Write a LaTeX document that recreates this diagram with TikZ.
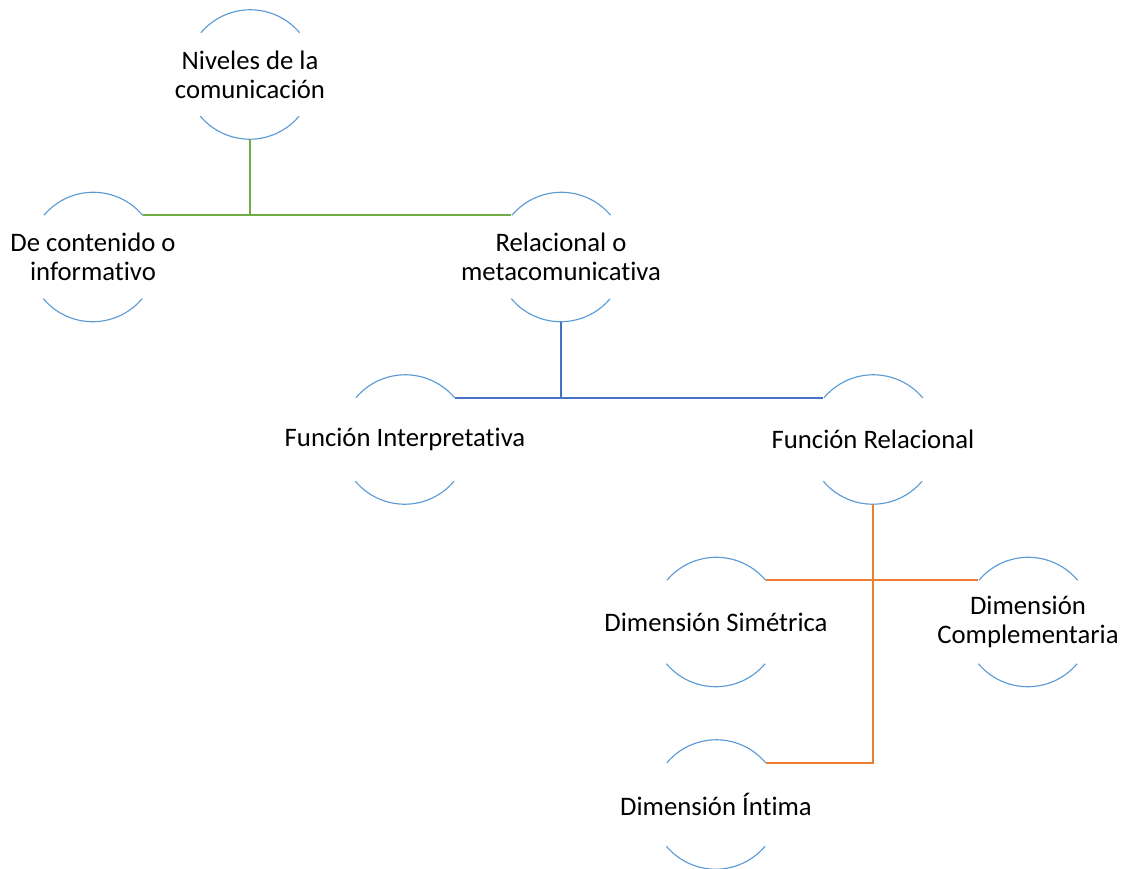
\documentclass[tikz,border=0pt]{standalone}
\usepackage{fontspec}
\setmainfont{Carlito}[Ligatures=NoCommon]
\usetikzlibrary{positioning}

\definecolor{ringblue}{HTML}{5B9BD5}
\definecolor{linegreen}{HTML}{70AD47}
\definecolor{lineblue}{HTML}{4472C4}
\definecolor{lineorange}{HTML}{ED7D31}

\begin{document}
\begin{tikzpicture}[node distance=3.65cm, on grid,
    ring/.style={circle, minimum size=2.58cm, inner sep=0pt},
    lbl/.style={align=center, font=\fontsize{15.2}{16.5}\selectfont},
    arcline/.style={ringblue, line width=0.65pt}]
\useasboundingbox (-5,1.49) rectangle (17.48,-15.89);
\draw
    node [ring, label={[lbl]center:{Niveles de la\\comunicación}}] (niveles) {}
    node [ring, below left=3.65cm and 3.14cm of niveles, label={[lbl]center:{De contenido o\\informativo}}] (contenido) {}
    node [ring, below right=3.65cm and 6.22cm of niveles, label={[lbl]center:{Relacional o\\metacomunicativa}}] (relacional) {}
    node [ring, below left=3.65cm and 3.12cm of relacional, label={[lbl]center:Función Interpretativa}] (interp) {}
    node [ring, below right=3.65cm and 6.24cm of relacional, label={[lbl]center:Función Relacional}] (funrel) {}
    node [ring, below left=3.65cm and 3.14cm of funrel, label={[lbl]center:Dimensión Simétrica}] (simetrica) {}
    node [ring, right=6.24cm of simetrica, label={[lbl]center:{Dimensión\\Complementaria}}] (compl) {}
    node [ring, below=of simetrica, label={[lbl]center:Dimensión Íntima}] (intima) {}
;
\draw[arcline] (niveles.40) arc (40:140:1.29) (niveles.220) arc (220:320:1.29);
\draw[arcline] (contenido.40) arc (40:140:1.29) (contenido.220) arc (220:320:1.29);
\draw[arcline] (relacional.40) arc (40:140:1.29) (relacional.220) arc (220:320:1.29);
\draw[arcline] (interp.40) arc (40:140:1.29) (interp.220) arc (220:320:1.29);
\draw[arcline] (funrel.40) arc (40:140:1.29) (funrel.220) arc (220:320:1.29);
\draw[arcline] (simetrica.40) arc (40:140:1.29) (simetrica.220) arc (220:320:1.29);
\draw[arcline] (compl.40) arc (40:140:1.29) (compl.220) arc (220:320:1.29);
\draw[arcline] (intima.40) arc (40:140:1.29) (intima.220) arc (220:320:1.29);
\draw[linegreen, line width=1pt] (niveles.south) -- (niveles.south |- contenido.40);
\draw[linegreen, line width=1pt] (contenido.40) -- (relacional.140);
\draw[lineblue, line width=1pt] (relacional.south) -- (relacional.south |- interp.40);
\draw[lineblue, line width=1pt] (interp.40) -- (funrel.140);
\draw[lineorange, line width=1pt] (funrel.south) |- (intima.40);
\draw[lineorange, line width=1pt] (simetrica.40) -- (compl.140);
\end{tikzpicture}
\end{document}
